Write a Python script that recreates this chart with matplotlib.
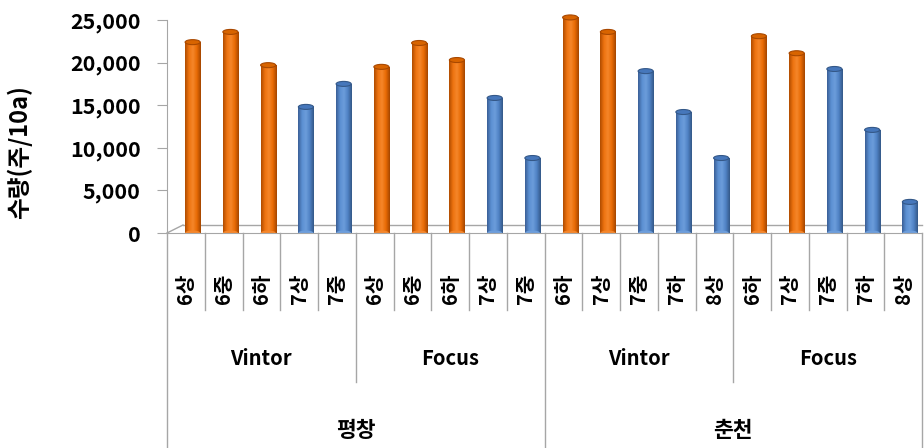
import numpy as np
import matplotlib
matplotlib.use("Agg")
import matplotlib.pyplot as plt
from matplotlib.patches import Rectangle, Ellipse
from matplotlib.colors import LinearSegmentedColormap
from matplotlib.transforms import blended_transform_factory
from matplotlib.ticker import FuncFormatter

plt.rcParams['font.family'] = ['Noto Sans CJK KR', 'DejaVu Sans']

# data
sites = ['평창', '춘천']
cultivars = ['Vintor', 'Focus', 'Vintor', 'Focus']
sowing = ['6상', '6중', '6하', '7상', '7중',
          '6상', '6중', '6하', '7상', '7중',
          '6하', '7상', '7중', '7하', '8상',
          '6하', '7상', '7중', '7하', '8상']
yield_vals = [22400, 23600, 19700, 14800, 17500,
              19500, 22300, 20300, 15850, 8800,
              25300, 23600, 19000, 14200, 8800,
              23100, 21100, 19250, 12100, 3650]
is_orange = [1, 1, 1, 0, 0,
             1, 1, 1, 0, 0,
             1, 1, 0, 0, 0,
             1, 1, 0, 0, 0]

W, H = 924, 448
fig = plt.figure(figsize=(W / 100, H / 100), dpi=100)

y0_px, y25_px = 233, 20
ymax = 26000
top_px = y0_px - (y0_px - y25_px) * ymax / 25000
left_px, right_px = 167, 922
ax = fig.add_axes([left_px / W, 1 - y0_px / H,
                   (right_px - left_px) / W, (y0_px - top_px) / H])
ax.set_xlim(-0.5, len(sowing) - 0.5)
ax.set_ylim(0, ymax)

orange_cmap = LinearSegmentedColormap.from_list(
    'o', ['#b04c00', '#ee7410', '#f5862a', '#e86a04', '#a44600'])
blue_cmap = LinearSegmentedColormap.from_list(
    'b', ['#3a5f96', '#5b8fd2', '#6c9ddb', '#4f82c4', '#345888'])
grad = np.linspace(0, 1, 64).reshape(1, -1)

shift = 0.18
bw = 0.4
unit = 25000 / (y0_px - y25_px)
for i, v in enumerate(yield_vals):
    cx = i + shift
    cmap = orange_cmap if is_orange[i] else blue_cmap
    rect = Rectangle((cx - bw / 2, 0), bw, v, facecolor='none', edgecolor='none')
    ax.add_patch(rect)
    im = ax.imshow(grad, cmap=cmap, aspect='auto',
                   extent=(cx - bw / 2, cx + bw / 2, 0, v), zorder=2)
    im.set_clip_path(rect)
    bot = Ellipse((cx, 0), bw, 5 * unit, facecolor=cmap(0.5), edgecolor='none', zorder=2)
    ax.add_patch(bot)
    top = Ellipse((cx, v), bw, 5 * unit,
                  facecolor=('#d86400' if is_orange[i] else '#4677bb'),
                  edgecolor=('#a84800' if is_orange[i] else '#345888'), lw=0.8, zorder=3)
    ax.add_patch(top)

# floor of the 3D box
ax.plot([-0.5 + 16 / 37.75, len(sowing) - 0.5], [8 * unit, 8 * unit],
        color='#a6a6a6', lw=1, zorder=1, clip_on=False)
ax.plot([-0.5, -0.5 + 16 / 37.75], [0, 8 * unit], color='#a6a6a6', lw=1,
        zorder=1, clip_on=False)

for s in ['top', 'right']:
    ax.spines[s].set_visible(False)
ax.spines['left'].set_bounds(0, 25000)
ax.spines['left'].set_color('#a6a6a6')
ax.spines['bottom'].set_color('#a6a6a6')
ax.set_yticks(np.arange(0, 25001, 5000))
ax.yaxis.set_major_formatter(FuncFormatter(lambda v, p: f'{int(v):,}'))
ax.tick_params(axis='y', length=7, color='#a6a6a6', labelsize=15.5, pad=12)
for lab in ax.get_yticklabels():
    lab.set_fontweight('bold')
ax.set_xticks([])
fig.text(19 / W, 1 - 152 / H, '수량(주/10a)', rotation=90, ha='center', va='center',
         fontsize=17, fontweight='bold')

# category table below the axis
tr = blended_transform_factory(ax.transData, fig.transFigure)


def fy(px):
    return 1 - px / H


line_kw = dict(color='#a6a6a6', lw=1, transform=tr, clip_on=False)
for b in range(len(sowing) + 1):
    xb = b - 0.5
    if b % 10 == 0:
        bottom = 448
    elif b % 5 == 0:
        bottom = 382
    else:
        bottom = 310
    ax.plot([xb, xb], [fy(y0_px), fy(bottom)], **line_kw)

for i, lab in enumerate(sowing):
    ax.text(i, fy(289), lab, transform=tr, rotation=90, ha='center', va='center',
            fontsize=14.5, fontweight='bold')
for g, name in enumerate(cultivars):
    ax.text(g * 5 + 2, fy(358), name, transform=tr, ha='center', va='center',
            fontsize=14.5, fontweight='bold')
for s, name in enumerate(sites):
    ax.text(s * 10 + 4.5, fy(430), name, transform=tr, ha='center', va='center',
            fontsize=15.5, fontweight='bold')

fig.savefig('out.png', dpi=100)
